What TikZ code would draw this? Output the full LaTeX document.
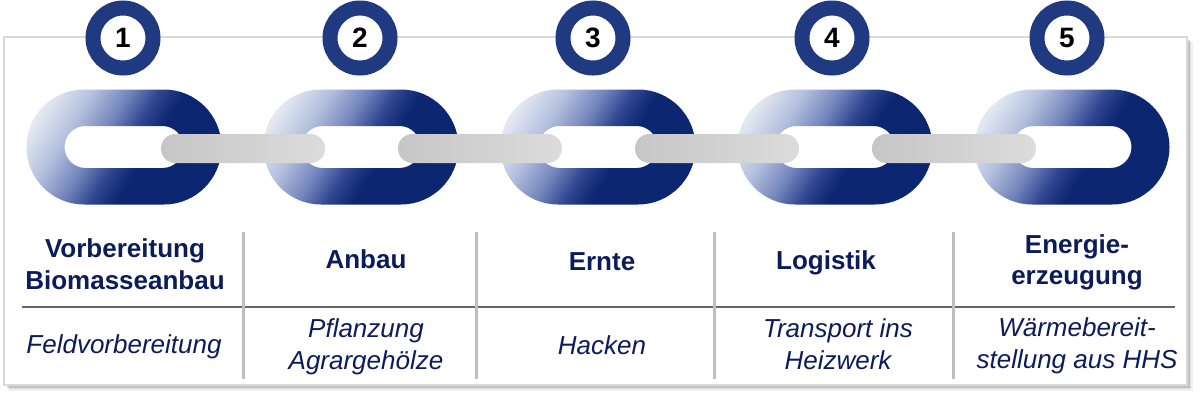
\documentclass[tikz,border=0pt]{standalone}
\usepackage{fontspec}
\setmainfont{Liberation Sans}
\usetikzlibrary{calc}
\definecolor{linkhi}{RGB}{226,231,242}
\definecolor{linkpale}{RGB}{180,192,222}
\definecolor{linkmid}{RGB}{112,130,186}
\definecolor{linkdeep}{RGB}{48,70,145}
\definecolor{linknavy}{RGB}{12,38,114}
\definecolor{ringblue}{RGB}{31,58,128}
\definecolor{navytext}{RGB}{12,28,90}
\definecolor{framegray}{RGB}{217,217,217}
\definecolor{sepgray}{RGB}{190,190,190}
\definecolor{bargray}{RGB}{198,198,198}
\definecolor{barlight}{RGB}{220,220,220}
\pgfdeclarehorizontalshading{linkshade}{100bp}{color(0bp)=(linkhi); color(23bp)=(linkhi); color(33bp)=(linkpale); color(43bp)=(linkmid); color(50bp)=(linkdeep); color(57bp)=(linknavy); color(100bp)=(linknavy)}
\tikzset{
  numcirc/.style={circle, draw=ringblue, line width=15pt, fill=white, minimum size=60pt, inner sep=0pt, font=\fontsize{28}{28}\selectfont\bfseries, text=black},
  headtxt/.style={align=center, inner sep=0pt, text=navytext, font=\fontsize{26}{31.5}\selectfont\bfseries},
  subtxt/.style={align=center, inner sep=0pt, text=navytext, font=\fontsize{26}{31.5}\selectfont\itshape},
  sepline/.style={draw=sepgray, line width=3pt},
  barshade/.style={left color=bargray, right color=barlight, rounded corners=14.4pt},
}
\begin{document}
\begin{tikzpicture}[x=1pt,y=-1pt]
\useasboundingbox (0,0) rectangle (1200,400);
% shadow
\fill[black, opacity=0.06] (9,42) rectangle (1193,391);
\fill[black, opacity=0.08] (8,41) rectangle (1191,389);
\fill[black, opacity=0.12] (7,40) rectangle (1190,388);
% frame
\fill[white] (4,37) rectangle (1187,385);
\draw[framegray, line width=2.5pt] (4,37) rectangle (1187,385);
% links
\foreach \i/\x in {1/124,2/361,3/598,4/835,5/1072}{
  \coordinate (L\i) at (\x,147);
  \shade[even odd rule, shading=linkshade, shading angle=-32]
    ($(L\i)+(-40,-57.5)$) -- ($(L\i)+(40,-57.5)$) arc[start angle=-90,end angle=90,radius=57.5]
    -- ($(L\i)+(-40,57.5)$) arc[start angle=90,end angle=270,radius=57.5] -- cycle
    ($(L\i)+(-38.5,-21)$) -- ($(L\i)+(38.5,-21)$) arc[start angle=-90,end angle=90,radius=21]
    -- ($(L\i)+(-38.5,21)$) arc[start angle=90,end angle=270,radius=21] -- cycle;
}
% bars
\foreach \a/\b in {1/2,2/3,3/4,4/5}{
  \coordinate (B\a s) at ($(L\a)+(37,-13)$);
  \coordinate (B\a e) at ($(L\b)+(-36,16)$);
  \shade[barshade] (B\a s) rectangle (B\a e);
}
% number circles
\node[numcirc] (n1) at (123,38) {1};
\node[numcirc] (n2) at (360,38) {2};
\node[numcirc] (n3) at (593,38) {3};
\node[numcirc] (n4) at (832,38) {4};
\node[numcirc] (n5) at (1067,38) {5};
% table lines
\coordinate (hl) at (22,307);
\coordinate (hr) at (1175,307);
\draw[black!60, line width=1.5pt] (hl) -- (hr);
\foreach \x [count=\k] in {243,476,714,953}{
  \coordinate (st\k) at (\x,232);
  \coordinate (sb\k) at (\x,379);
  \draw[sepline] (st\k) -- (sb\k);
}
% headers
\node[headtxt] (h1) at (125,264.3) {Vorbereitung\\Biomasseanbau};
\node[headtxt] (h2) at (366,259.5) {Anbau};
\node[headtxt] (h3) at (602,261.5) {Ernte};
\node[headtxt] (h4) at (826,263) {Logistik};
\node[headtxt] (h5) at (1077,262.3) {Energie-\\erzeugung};
% sub texts
\node[subtxt] (s1) at (124,347) {Feldvorbereitung};
\node[subtxt] (s2) at (366,346.7) {Pflanzung\\Agrargehölze};
\node[subtxt] (s3) at (602,345.5) {Hacken};
\node[subtxt] (s4) at (838,344) {Transport ins\\Heizwerk};
\node[subtxt] (s5) at (1077,345.7) {Wärmebereit-\\stellung aus HHS};
\end{tikzpicture}
\end{document}
